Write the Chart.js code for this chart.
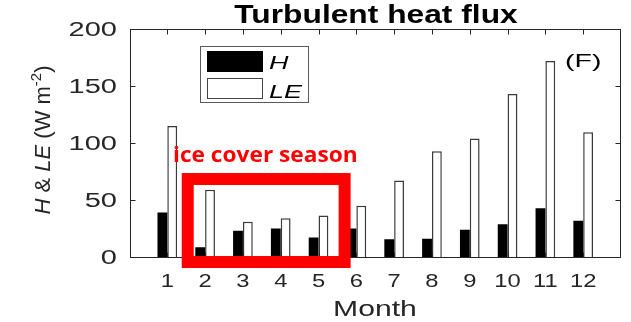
<!DOCTYPE html>
<html>
<head>
<meta charset="utf-8">
<title>Turbulent heat flux</title>
<script src="https://cdn.jsdelivr.net/npm/chart.js@4.4.1/dist/chart.umd.min.js"></script>
<style>
  html, body { margin: 0; padding: 0; background: #fff; }
  #wrap { width: 631px; height: 322px; }
</style>
</head>
<body>
<div id="wrap"><canvas id="fluxChart" width="631" height="322"></canvas></div>
<script>
// Monthly turbulent heat flux (W m-2)
const months = ['1', '2', '3', '4', '5', '6', '7', '8', '9', '10', '11', '12'];
const hFlux = [39, 8.5, 23, 25, 17, 25, 15.5, 16, 24, 28.7, 42.7, 31.8];
const leFlux = [115, 59, 31, 34, 36.5, 45, 67, 92.7, 104, 143, 172, 109.5];
const yTicks = [0, 50, 100, 150, 200];

// ice cover season box, in axis units (month, W m-2)
const iceBox = { x1: 1.54, x2: 5.69, y1: 68.4, y2: -4.4 };

// empty slots at 0 and 13 so the axis runs 0..13
const slots = [''].concat(months, ['']);
const pad = arr => [null].concat(arr, [null]);

const axisColor = '#262626';
const sans = '"Liberation Sans", Arial, Helvetica, sans-serif';

// draw text squeezed/stretched horizontally
function putText(ctx, str, x, y, font, sx, align, color) {
    ctx.save();
    ctx.font = font;
    ctx.textAlign = align || 'left';
    ctx.textBaseline = 'alphabetic';
    ctx.fillStyle = color || axisColor;
    ctx.translate(x, y);
    ctx.scale(sx, 1);
    ctx.fillText(str, 0, 0);
    ctx.restore();
}

const decor = {
    id: 'decor',
    afterDraw(chart) {
        const { ctx, chartArea: a, scales: { x, y } } = chart;
        const L = Math.round(a.left) + 0.5, R = Math.round(a.right) - 0.5;
        const T = Math.round(a.top) + 0.5, B = Math.round(a.bottom) + 0.5;
        ctx.save();

        // axes box
        ctx.strokeStyle = axisColor;
        ctx.lineWidth = 1;
        ctx.strokeRect(L, T, R - L, B - T);

        // inward ticks
        ctx.beginPath();
        yTicks.forEach(v => {
            const py = Math.round(y.getPixelForValue(v)) + 0.5;
            ctx.moveTo(L, py); ctx.lineTo(L + 5, py);
            ctx.moveTo(R, py); ctx.lineTo(R - 5, py);
        });
        months.forEach((m, i) => {
            const px = Math.round(x.getPixelForValue(i + 1)) + 0.5;
            ctx.moveTo(px, T); ctx.lineTo(px, T + 5);
            ctx.moveTo(px, B); ctx.lineTo(px, B - 5);
        });
        ctx.stroke();

        // tick labels
        yTicks.forEach(v => {
            putText(ctx, String(v), 117, y.getPixelForValue(v) + 7.2, '20px ' + sans, 1.45, 'right');
        });
        months.forEach((m, i) => {
            putText(ctx, m, x.getPixelForValue(i + 1), 287, '19px ' + sans, 1.25, 'center');
        });

        // titles
        putText(ctx, 'Turbulent heat flux', 376, 23, 'bold 25px ' + sans, 1.27, 'center', '#000');
        putText(ctx, 'Month', 375, 316, '22px ' + sans, 1.37, 'center');

        // y axis title: H & LE (W m-2), with italics and superscript
        const parts = [
            { t: 'H', f: 'italic 22px ' + sans, dy: 0 },
            { t: ' & ', f: '22px ' + sans, dy: 0 },
            { t: 'LE', f: 'italic 22px ' + sans, dy: 0 },
            { t: ' (W m', f: '22px ' + sans, dy: 0 },
            { t: '-2', f: '15px ' + sans, dy: -9 },
            { t: ')', f: '22px ' + sans, dy: 0 }
        ];
        let total = 0;
        parts.forEach(p => { ctx.font = p.f; p.w = ctx.measureText(p.t).width; total += p.w; });
        ctx.save();
        ctx.translate(50, 140);
        ctx.rotate(-Math.PI / 2);
        ctx.fillStyle = axisColor;
        ctx.textBaseline = 'alphabetic';
        let cx = -total / 2;
        parts.forEach(p => {
            ctx.font = p.f;
            ctx.fillText(p.t, cx, p.dy);
            cx += p.w;
        });
        ctx.restore();

        // panel letter
        putText(ctx, '(F)', 565, 67, '19px ' + sans, 1.5, 'left', '#000');

        // legend
        ctx.fillStyle = '#fff';
        ctx.fillRect(200.5, 46.5, 108, 56);
        ctx.strokeStyle = '#5a5a5a';
        ctx.strokeRect(200.5, 46.5, 108, 56);
        ctx.fillStyle = '#000';
        ctx.fillRect(207, 51, 56, 21);
        ctx.strokeStyle = '#444';
        ctx.strokeRect(207.5, 78.5, 55, 20);
        putText(ctx, 'H', 269, 68.5, 'italic 18px ' + sans, 1.5, 'left', '#000');
        putText(ctx, 'LE', 269, 98, 'italic 18px ' + sans, 1.5, 'left', '#000');

        // ice cover season box and label
        const bx1 = x.getPixelForValue(iceBox.x1), bx2 = x.getPixelForValue(iceBox.x2);
        const by1 = y.getPixelForValue(iceBox.y1), by2 = y.getPixelForValue(iceBox.y2);
        ctx.strokeStyle = '#ff0000';
        ctx.lineWidth = 12;
        ctx.strokeRect(bx1, by1, bx2 - bx1, by2 - by1);
        putText(ctx, 'ice cover season', 173, 162, 'bold 21px "Open Sans", sans-serif', 1.08, 'left', '#ff0000');

        ctx.restore();
    }
};

new Chart(document.getElementById('fluxChart'), {
    type: 'bar',
    data: {
        labels: slots,
        datasets: [
            {
                label: 'H',
                data: pad(hFlux),
                backgroundColor: '#000',
                borderWidth: 0,
                categoryPercentage: 0.52,
                barPercentage: 1
            },
            {
                label: 'LE',
                data: pad(leFlux),
                backgroundColor: '#fff',
                borderColor: '#3a3a3a',
                borderWidth: 1.5,
                categoryPercentage: 0.52,
                barPercentage: 1
            }
        ]
    },
    options: {
        responsive: false,
        animation: false,
        devicePixelRatio: 1,
        layout: { padding: { top: 29, right: 10, left: 0, bottom: 0 } },
        plugins: {
            legend: { display: false },
            tooltip: { enabled: false },
            title: { display: false }
        },
        scales: {
            x: {
                type: 'category',
                offset: false,
                grid: { display: false },
                border: { display: false },
                ticks: { display: false },
                afterFit: s => { s.height = 65; }
            },
            y: {
                min: 0,
                max: 200,
                grid: { display: false },
                border: { display: false },
                ticks: { display: false, stepSize: 50 },
                afterFit: s => { s.width = 129.5; }
            }
        }
    },
    plugins: [decor]
});
</script>
</body>
</html>
